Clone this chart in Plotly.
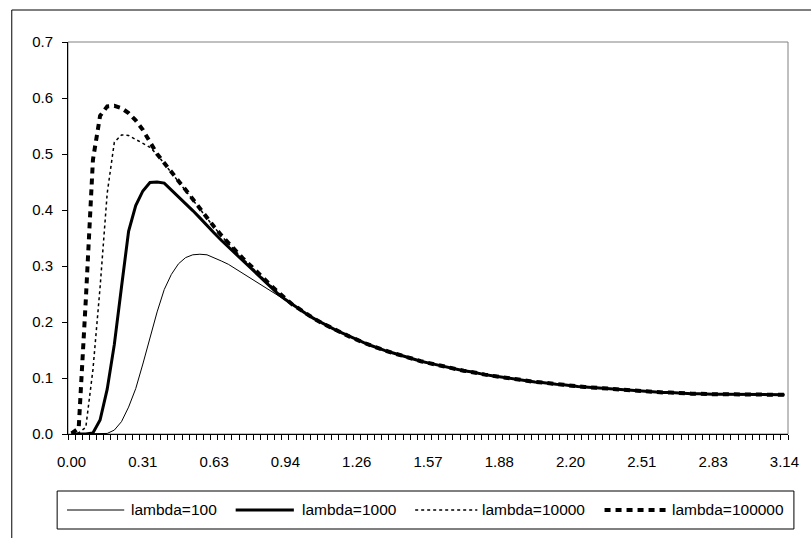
import math
import plotly.graph_objects as go

# ---------------- data ----------------
N_POINTS = 101
X = [i * math.pi / 100 for i in range(N_POINTS)]          # category positions 0 .. pi
X_TICK_LABELS = ["0.00", "0.31", "0.63", "0.94", "1.26", "1.57",
                 "1.88", "2.20", "2.51", "2.83", "3.14"]
Y_TICKS = [0.0, 0.1, 0.2, 0.3, 0.4, 0.5, 0.6, 0.7]
SERIES_NAMES = ["lambda=100", "lambda=1000", "lambda=10000", "lambda=100000"]

# first 31 points (x index 0..30) differ per series
HEAD_100 = [0, 0, 0, 0, 0, 0.001, 0.007, 0.022, 0.048, 0.081, 0.125, 0.172, 0.218,
            0.258, 0.285, 0.304, 0.315, 0.320, 0.321, 0.320, 0.315, 0.309, 0.303,
            0.295, 0.287, 0.279, 0.271, 0.263, 0.255, 0.247, 0.239]
HEAD_1000 = [0, 0, 0, 0.002, 0.025, 0.080, 0.160, 0.262, 0.362, 0.408, 0.434, 0.449,
             0.450, 0.448, 0.436, 0.424, 0.412, 0.399, 0.386, 0.372, 0.359, 0.346,
             0.334, 0.321, 0.309, 0.297, 0.285, 0.273, 0.261, 0.250, 0.240]
HEAD_10000 = [0, 0.002, 0.012, 0.115, 0.262, 0.430, 0.521, 0.534, 0.533, 0.526, 0.520,
              0.512, 0.499, 0.483, 0.468, 0.451, 0.435, 0.418, 0.402, 0.385, 0.369,
              0.354, 0.340, 0.326, 0.313, 0.301, 0.288, 0.276, 0.264, 0.252, 0.241]
HEAD_100000 = [0.001, 0.010, 0.240, 0.490, 0.568, 0.585, 0.586, 0.582, 0.573, 0.560,
               0.543, 0.520, 0.500, 0.484, 0.469, 0.452, 0.436, 0.419, 0.403, 0.386,
               0.370, 0.355, 0.341, 0.327, 0.314, 0.302, 0.289, 0.277, 0.265, 0.253, 0.242]
# points 31..100: all four curves coincide
TAIL_COMMON = [0.231, 0.223, 0.214, 0.206, 0.199, 0.192, 0.186, 0.180, 0.174, 0.168,
               0.163, 0.158, 0.153, 0.149, 0.145, 0.141, 0.137, 0.134, 0.130, 0.127,
               0.124, 0.121, 0.118, 0.116, 0.113, 0.111, 0.108, 0.106, 0.104, 0.102,
               0.100, 0.098, 0.096, 0.095, 0.093, 0.092, 0.090, 0.089, 0.088, 0.086,
               0.085, 0.084, 0.083, 0.082, 0.081, 0.080, 0.079, 0.078, 0.077, 0.076,
               0.076, 0.075, 0.074, 0.074, 0.073, 0.073, 0.072, 0.072, 0.071, 0.071,
               0.071, 0.071, 0.070, 0.070, 0.070, 0.070, 0.070, 0.070, 0.070, 0.070]

SERIES_VALUES = [HEAD_100 + TAIL_COMMON, HEAD_1000 + TAIL_COMMON,
                 HEAD_10000 + TAIL_COMMON, HEAD_100000 + TAIL_COMMON]

# ---------------- styling / layout ----------------
FONT = "Liberation Sans, Arial, sans-serif"
W, H = 811, 538
L, R, T, B = 68, 13, 42, 104
PW, PH = W - L - R, H - T - B


def px(x):
    return (x - L) / PW


def py(y):
    return (H - B - y) / PH


STYLES = [
    dict(width=1, dash="solid"),
    dict(width=3, dash="solid"),
    dict(width=1.5, dash="3px,3px"),
    dict(width=4, dash="6px,5px"),
]

fig = go.Figure()
for name, vals, st in zip(SERIES_NAMES, SERIES_VALUES, STYLES):
    fig.add_trace(go.Scatter(x=X, y=vals, mode="lines", name=name,
                             line=dict(color="black", width=st["width"], dash=st["dash"]),
                             showlegend=False))

step = X[1] - X[0]
minor_vals = [X[0] - step / 2 + k * step for k in range(N_POINTS + 1)]
major_vals = [X[i] for i in range(0, N_POINTS, 10)]

shapes = [
    # chart outer border
    dict(type="rect", xref="paper", yref="paper", x0=px(11), x1=px(840), y0=py(580), y1=py(10),
         line=dict(color="black", width=1), layer="below"),
    # plot area border
    dict(type="rect", xref="paper", yref="paper", x0=0, x1=1, y0=0, y1=1,
         line=dict(color="#808080", width=1), layer="below"),
    # legend box
    dict(type="rect", xref="paper", yref="paper", x0=px(57), x1=px(804), y0=py(529), y1=py(491),
         line=dict(color="black", width=1)),
]
annotations = []
sample_pos = [(67, 125), (238, 297), (420, 483), (612, 676)]
text_pos = [130, 303, 486, 678]
ly = py(510)
for name, st, (sx0, sx1), tx in zip(SERIES_NAMES, STYLES, sample_pos, text_pos):
    shapes.append(dict(type="line", xref="paper", yref="paper", x0=px(sx0), x1=px(sx1),
                       y0=ly, y1=ly, line=dict(color="black", width=st["width"], dash=st["dash"])))
    annotations.append(dict(xref="paper", yref="paper", x=px(tx), y=ly, text=name,
                            showarrow=False, xanchor="left", yanchor="middle",
                            font=dict(family=FONT, size=15.5, color="black")))

fig.update_layout(
    width=W, height=H,
    margin=dict(l=L, r=R, t=T, b=B, pad=0),
    paper_bgcolor="white", plot_bgcolor="white",
    font=dict(family=FONT, size=15, color="black"),
    shapes=shapes, annotations=annotations,
    showlegend=False,
    xaxis=dict(range=[minor_vals[0], minor_vals[-1]], tickmode="array",
               tickvals=major_vals, ticktext=X_TICK_LABELS, ticks="",
               showline=True, linecolor="black", linewidth=1,
               showgrid=False, zeroline=False, ticklabelstandoff=14,
               minor=dict(tickmode="array", tickvals=minor_vals, ticks="outside",
                          ticklen=5, tickcolor="black", tickwidth=1, showgrid=False),
               tickfont=dict(family=FONT, size=15, color="black")),
    yaxis=dict(range=[0, 0.7], tickmode="array", tickvals=Y_TICKS, tickformat=".1f",
               ticks="outside", ticklen=5, tickcolor="black",
               showline=True, linecolor="black", linewidth=1,
               showgrid=False, zeroline=False, ticklabelstandoff=6,
               tickfont=dict(family=FONT, size=15, color="black")),
)

fig.write_html("out.html", config={"displayModeBar": False},
               post_script="document.body.style.margin='0';document.body.style.overflow='hidden';")
